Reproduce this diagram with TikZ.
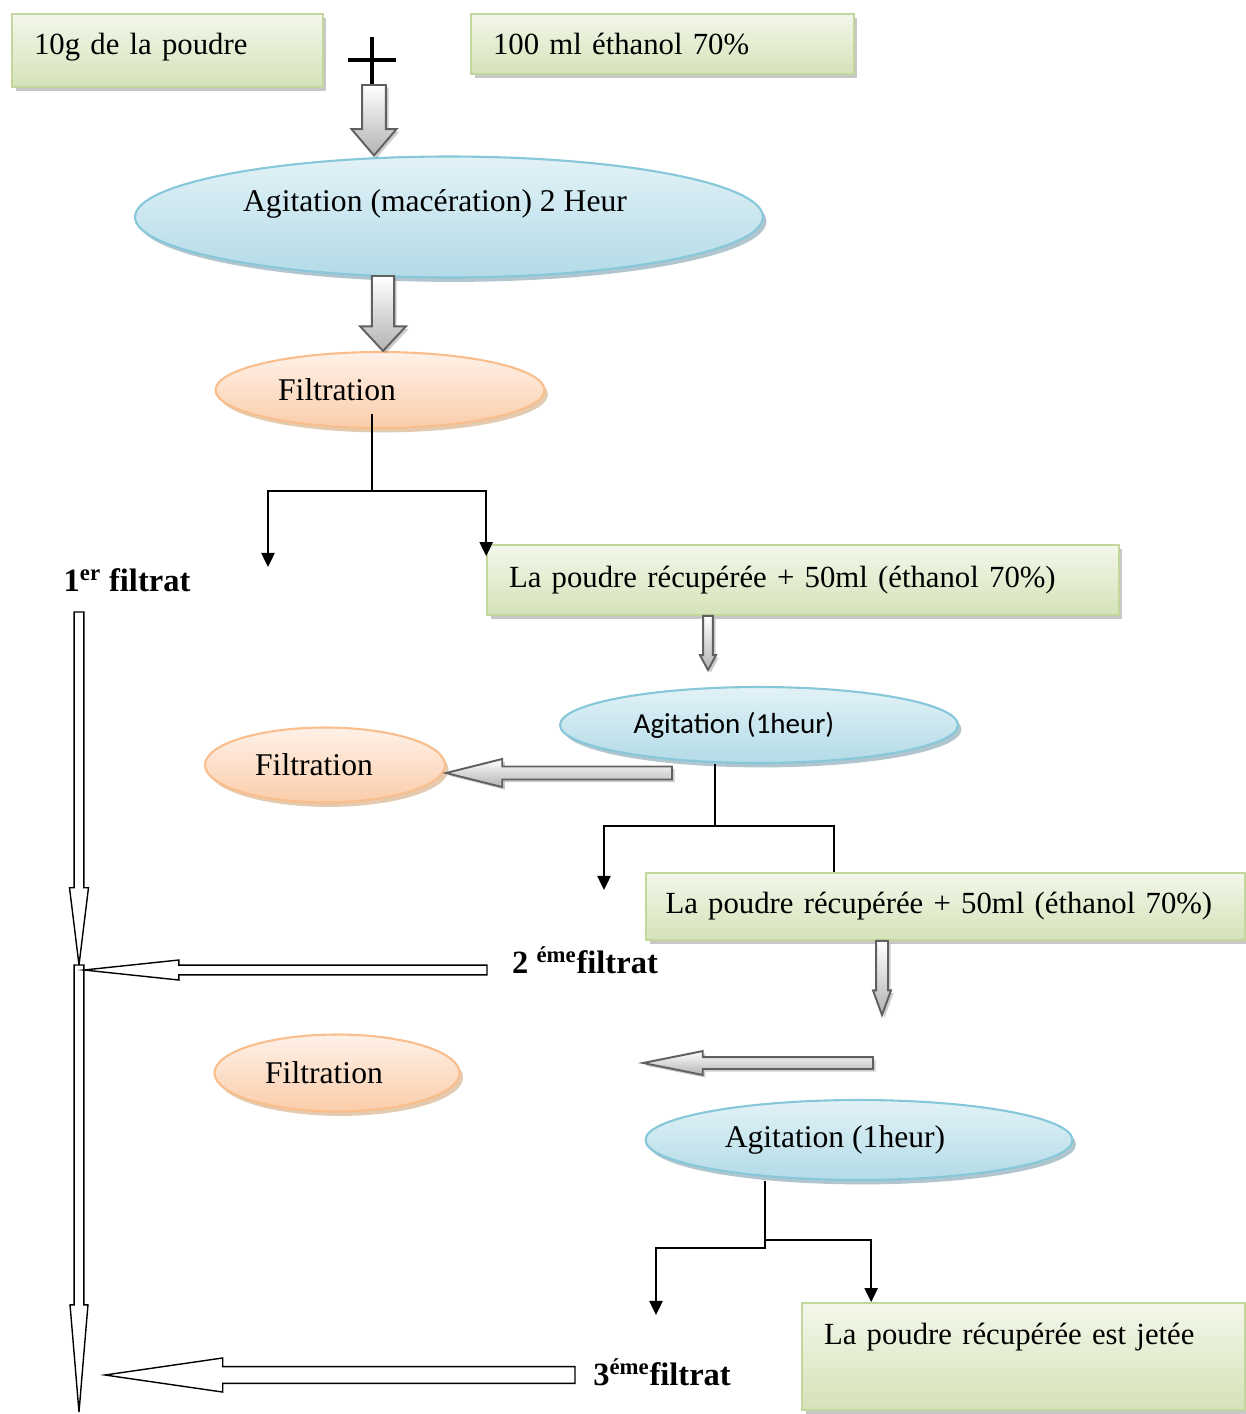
\documentclass[tikz,border=0pt]{standalone}
\usepackage{fontspec}
\setmainfont{Liberation Serif}
\newfontfamily\calibri{Carlito}
\usetikzlibrary{shapes,arrows,arrows.meta,positioning,calc,shadows}

\definecolor{boxtop}{HTML}{F3F7EA}
\definecolor{boxbot}{HTML}{D5E2B8}
\definecolor{boxline}{HTML}{C3D69B}
\definecolor{bluetop}{HTML}{E2F2F7}
\definecolor{bluebot}{HTML}{B3DBE7}
\definecolor{blueline}{HTML}{86C7D9}
\definecolor{orangetop}{HTML}{FEF1E8}
\definecolor{orangebot}{HTML}{FBCDAA}
\definecolor{orangeline}{HTML}{F9BE8C}

% fleche pleine : style, depart, arrivee, demi-largeur tige, demi-largeur tete, longueur tete (pt)
\newcommand{\blockarrow}[6]{%
  \path[#1] let \p1=(#2), \p2=(#3),
      \n1={atan2(\y2-\y1,\x2-\x1)}, \n2={veclen(\x2-\x1,\y2-\y1)} in
    ($(\p1)+(\n1+90:#4pt)$)
    -- ($(\p1)+(\n1:\n2-#6pt)+(\n1+90:#4pt)$)
    -- ($(\p1)+(\n1:\n2-#6pt)+(\n1+90:#5pt)$)
    -- (\p2)
    -- ($(\p1)+(\n1:\n2-#6pt)+(\n1-90:#5pt)$)
    -- ($(\p1)+(\n1:\n2-#6pt)+(\n1-90:#4pt)$)
    -- ($(\p1)+(\n1-90:#4pt)$) -- cycle;}

\begin{document}
\begin{tikzpicture}[x=0.02cm, y=-0.02cm,
    greenbox/.style={rectangle, draw=boxline, line width=1pt, top color=boxtop, bottom color=boxbot,
        drop shadow={shadow xshift=2pt, shadow yshift=-2.5pt, opacity=0.55, fill=gray!80},
        inner xsep=0.44cm, align=left, font=\fontsize{17.5}{21}\selectfont},
    blueell/.style={ellipse, draw=blueline, line width=1.2pt, top color=bluetop, bottom color=bluebot,
        drop shadow={shadow xshift=2pt, shadow yshift=-2.5pt, opacity=0.6, fill=gray!70!cyan},
        inner sep=0pt},
    orangeell/.style={ellipse, draw=orangeline, line width=1.2pt, top color=orangetop, bottom color=orangebot,
        drop shadow={shadow xshift=2pt, shadow yshift=-2.5pt, opacity=0.6, fill=brown!70},
        inner sep=0pt},
    etape/.style={inner sep=0pt, font=\fontsize{18}{22}\selectfont},
    filtrat/.style={font=\fontsize{18.5}{22}\selectfont\bfseries, inner sep=0pt},
    link/.style={line width=1.1pt, draw=black},
    tip/.style={-{Triangle[length=8pt,width=7.5pt]}},
    grayarrow/.style={draw=gray!75!black, line width=1.1pt, top color=white, bottom color=gray!60,
        drop shadow={shadow xshift=1.5pt, shadow yshift=-1.5pt, opacity=0.4}},
    whitearrow/.style={draw=black, fill=white, line width=0.8pt}
]
\useasboundingbox (0,0) rectangle (1245,1414);

    % Produits de depart
    \node[greenbox, minimum width=6.22cm, minimum height=1.46cm, text width=5.34cm, text height=0.45cm, text depth=0.3cm] (poudre) at (167.5,50.5) {10g de la poudre};
    \node[greenbox, minimum width=7.66cm, minimum height=1.2cm, text width=6.78cm] (ethanol) at (662.5,44) {100 ml éthanol 70\%};
    \coordinate (plus) at (372,60);
    \draw[line width=2.3pt] ($(plus)+(-24,0)$) -- ($(plus)+(24,0)$);
    \draw[line width=2.3pt] ($(plus)+(0,-23)$) -- ($(plus)+(0,25)$);

    % Etapes
    \node[blueell, minimum width=12.56cm, minimum height=2.42cm] (macer) at (449,217) {};
    \node[etape] (macertxt) at ($(macer.center)+(-14,-13)$) {Agitation (macération) 2 Heur};
    \node[orangeell, minimum width=6.58cm, minimum height=1.52cm] (filt1) at (380,390) {};
    \node[etape] (filt1txt) at ($(filt1.center)+(-43,0)$) {Filtration};
    \node[greenbox, minimum width=12.64cm, minimum height=1.4cm, text width=11.76cm] (recup1) at (803,580) {La poudre récupérée + 50ml (éthanol 70\%)};
    \node[blueell, minimum width=7.96cm, minimum height=1.52cm] (agit1) at (759,725) {};
    \node[etape, font=\calibri\fontsize{16.5}{20}\selectfont] (agit1txt) at ($(agit1.center)+(-25,0)$) {Agitation (1heur)};
    \node[orangeell, minimum width=4.8cm, minimum height=1.5cm] (filt2) at (325,765) {};
    \node[etape] (filt2txt) at ($(filt2.center)+(-11,0)$) {Filtration};
    \node[greenbox, minimum width=11.98cm, minimum height=1.34cm, inner xsep=0.39cm, text width=11.2cm] (recup2) at (945.5,906.5) {La poudre récupérée + 50ml (éthanol 70\%)};
    \node[orangeell, minimum width=4.9cm, minimum height=1.54cm] (filt3) at (337,1073) {};
    \node[etape] (filt3txt) at ($(filt3.center)+(-13,0)$) {Filtration};
    \node[blueell, minimum width=8.54cm, minimum height=1.6cm] (agit2) at (859,1140) {};
    \node[etape] (agit2txt) at ($(agit2.center)+(-24,0)$) {Agitation (1heur)};
    \node[greenbox, minimum width=8.86cm, text width=7.98cm, inner ysep=0.32cm, text height=0.5cm, text depth=1.0cm] (jetee) at (1023.5,1356.5) {La poudre récupérée est jetée};

    % Filtrats
    \node[filtrat] (filtrat1) at (127,580) {1\textsuperscript{er} filtrat};
    \node[filtrat] (filtrat2) at (585,960) {2 \textsuperscript{éme}filtrat};
    \node[filtrat] (filtrat3) at (662,1372) {3\textsuperscript{éme}filtrat};

    % Fleches grises
    \coordinate (plusbot) at (374,85);
    \blockarrow{grayarrow}{plusbot}{macer.north -| plusbot}{6.8}{12.8}{15}
    \coordinate (macerout) at (383,276);
    \blockarrow{grayarrow}{macerout}{filt1.north -| macerout}{6.3}{13}{14}
    \coordinate (recup1out) at (708,670);
    \blockarrow{grayarrow}{recup1.south -| recup1out}{recup1out}{2.8}{4.6}{8.5}
    \coordinate (agit1out) at (672,773);
    \blockarrow{grayarrow}{agit1out}{filt2.east |- agit1out}{3.7}{8}{32}
    \coordinate (recup2out) at (882,1015);
    \blockarrow{grayarrow}{recup2.south -| recup2out}{recup2out}{3.4}{5.1}{14}
    \coordinate (vide1) at (873,1063);
    \coordinate (vide2) at (643,1063);
    \blockarrow{grayarrow}{vide1}{vide2}{3.4}{6.8}{34}

    % Separations
    \coordinate (split1) at (372,491);
    \coordinate (f1tip) at (268,567);
    \draw[link] ($(filt1.south -| split1)+(0,-15)$) -- (split1);
    \draw[link, tip] (split1) -| (f1tip);
    \draw[link, tip] (split1) -| ($(recup1.north west)+(0,12)$);

    \coordinate (split2) at (715,826);
    \coordinate (f2tip) at (604,890);
    \draw[link] (agit1.south -| split2) -- (split2);
    \draw[link, tip] (split2) -| (f2tip);
    \draw[link] (split2) -| ($(recup2.north west)+(189,0)$);

    \coordinate (split3) at (765,1244);
    \coordinate (f3tip) at (656,1315);
    \draw[link, tip] (agit2.south -| split3) -- ($(split3)+(0,4)$) -| (f3tip);
    \draw[link, tip] ($(split3)+(0,-4)$) -| ($(jetee.north west)+(70,0)$);

    % Collecte des filtrats
    \coordinate (coltop) at (79,612);
    \coordinate (junc) at (79,965);
    \coordinate (juncr) at (84,970);
    \coordinate (colbot) at (79,1412);
    \coordinate (f2start) at (487,970);
    \coordinate (f3start) at (575,1375);
    \coordinate (f3end) at (105,1375);
    \blockarrow{whitearrow}{coltop}{junc}{2.8}{5.4}{44}
    \blockarrow{whitearrow}{junc}{colbot}{2.8}{5.1}{61}
    \blockarrow{whitearrow}{f2start}{juncr}{2.8}{5.7}{54}
    \blockarrow{whitearrow}{f3start}{f3end}{4.8}{9.7}{67}

\end{tikzpicture}
\end{document}
